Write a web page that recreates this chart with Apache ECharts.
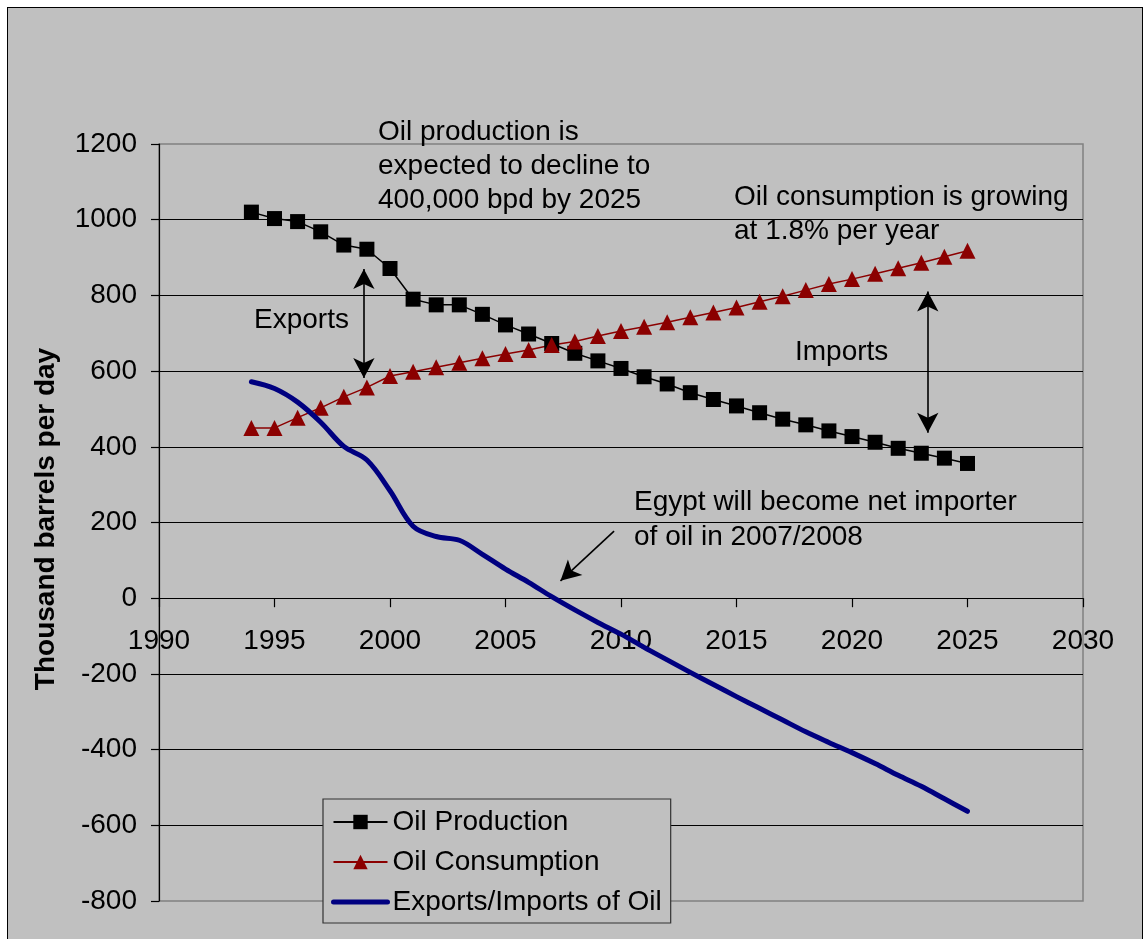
<!DOCTYPE html>
<html>
<head>
<meta charset="utf-8">
<title>Egypt oil production and consumption</title>
<script src="https://cdn.jsdelivr.net/npm/echarts@6/dist/echarts.min.js"></script>
<style>
  html, body { margin: 0; padding: 0; background: #ffffff; }
  #wrap { position: relative; width: 1148px; height: 939px; overflow: hidden; }
  #frame { position: absolute; left: 7px; top: 7px; width: 1134px; height: 960px;
           background: #c0c0c0; border: 1.5px solid #000; }
  #chart { position: absolute; left: 0; top: 0; width: 1148px; height: 939px; }
</style>
</head>
<body>
<div id="wrap">
  <div id="frame"></div>
  <div id="chart"></div>
</div>
<script>
// Years covered by the series
const years = [1994, 1995, 1996, 1997, 1998, 1999, 2000, 2001, 2002, 2003, 2004,
               2005, 2006, 2007, 2008, 2009, 2010, 2011, 2012, 2013, 2014, 2015,
               2016, 2017, 2018, 2019, 2020, 2021, 2022, 2023, 2024, 2025];

// Thousand barrels per day
const oilProduction = [1020, 1003, 995, 968, 933, 922, 871, 790, 775, 775, 750,
                       722, 698, 673, 647, 627, 607, 585, 566, 543, 525, 508,
                       490, 473, 458, 442, 427, 412, 396, 383, 370, 356];

const oilConsumption = [450, 450, 477, 503, 532, 557, 587, 598, 610, 622, 634,
                        645, 656, 669, 678, 693, 706, 717, 729, 742, 755, 768,
                        783, 798, 814, 830, 843, 857, 872, 886, 902, 918];

const exportsImports = [572, 554, 518, 465, 401, 365, 284, 190, 163, 153, 116,
                        77, 42, 4, -31, -64, -95, -130, -163, -196, -228, -260,
                        -291, -322, -353, -381, -408, -437, -468, -497, -530, -563];

const seriesNames = ['Oil Production', 'Oil Consumption', 'Exports/Imports of Oil'];

// Axis ranges and ticks
const xMin = 1990, xMax = 2030, xStep = 5;
const yMin = -800, yMax = 1200, yStep = 200;

// Arrow tips (year, value): the export and import gaps,
// and the pointer to the year of crossover
const exportsArrow = [[1998.87, 870], [1998.87, 582]];
const importsArrow = [[2023.28, 810], [2023.28, 437]];
const crossoverArrow = [[2009.70, 177], [2007.38, 46]];

const FONT = '"Liberation Sans", Arial, Helvetica, sans-serif';
const FS = 28;

// Plot rectangle
const GRID = { left: 159, right: 65, top: 144, bottom: 38 };
const plotHeight = 939 - GRID.top - GRID.bottom;
// The year axis sits on the zero line
const zeroOffset = -(0 - yMin) / (yMax - yMin) * plotHeight;

function zip(xs, ys) { return xs.map((x, i) => [x, ys[i]]); }

function label(x, y, text, lineHeight) {
  return {
    type: 'text',
    x: x, y: y,
    silent: true,
    z: 50,
    style: {
      text: text,
      fill: '#000',
      font: FS + 'px ' + FONT,
      fontSize: FS,
      fontFamily: FONT,
      lineHeight: lineHeight || FS,
      align: 'left',
      textAlign: 'left',
      verticalAlign: lineHeight ? 'top' : 'middle',
      textVerticalAlign: lineHeight ? 'top' : 'middle'
    }
  };
}

const chart = echarts.init(document.getElementById('chart'), null, { renderer: 'canvas' });

chart.setOption({
  animation: false,
  backgroundColor: 'transparent',
  textStyle: { fontFamily: FONT, color: '#000' },
  grid: {
    left: GRID.left, right: GRID.right, top: GRID.top, bottom: GRID.bottom,
    show: true,
    backgroundColor: 'transparent',
    borderColor: '#808080',
    borderWidth: 1.5,
    containLabel: false,
    outerBoundsMode: 'none'
  },
  xAxis: {
    type: 'value',
    position: 'bottom',
    offset: zeroOffset,
    min: xMin, max: xMax, interval: xStep,
    axisLine: { show: true, onZero: false, lineStyle: { color: '#000', width: 1.2 } },
    axisTick: { show: true, length: 9, inside: false, lineStyle: { color: '#000', width: 1.2 } },
    axisLabel: { color: '#000', fontSize: FS, fontFamily: FONT, margin: 29,
                 showMinLabel: true, showMaxLabel: true,
                 formatter: v => String(v) },
    splitLine: { show: false }
  },
  yAxis: {
    type: 'value',
    min: yMin, max: yMax, interval: yStep,
    axisLine: { show: true, onZero: false, lineStyle: { color: '#000', width: 1.2 } },
    axisTick: { show: true, length: 8, inside: false, lineStyle: { color: '#000', width: 1.2 } },
    axisLabel: { color: '#000', fontSize: FS, fontFamily: FONT, margin: 22,
                 formatter: v => String(v) },
    splitLine: { show: true, showMinLine: false, showMaxLine: false,
                 lineStyle: { color: '#000', width: 1.2 } }
  },
  legend: {
    orient: 'vertical',
    left: 323, top: 799,
    padding: [9, 9, 7, 8],
    itemGap: 12,
    itemWidth: 54,
    itemHeight: 18,
    backgroundColor: '#c0c0c0',
    borderColor: '#333',
    borderWidth: 1.2,
    selectedMode: false,
    data: [
      { name: seriesNames[0] },
      { name: seriesNames[1] },
      { name: seriesNames[2], itemStyle: { opacity: 0 },
        lineStyle: { width: 5, cap: 'round', color: '#000080' } }
    ],
    textStyle: { color: '#000', fontSize: FS, fontFamily: FONT, lineHeight: 27 }
  },
  graphic: [
    {
      type: 'text',
      x: 46, y: 519,
      rotation: Math.PI / 2,
      silent: true,
      style: {
        text: 'Thousand barrels per day',
        fill: '#000',
        font: 'bold ' + FS + 'px ' + FONT,
        fontSize: FS, fontWeight: 'bold', fontFamily: FONT,
        align: 'center', textAlign: 'center',
        verticalAlign: 'middle', textVerticalAlign: 'middle'
      }
    },
    label(378, 115.6, 'Oil production is\nexpected to decline to\n400,000 bpd by 2025', 34),
    label(734, 180.9, 'Oil consumption is growing\nat 1.8% per year', 33.5),
    label(254, 320.3, 'Exports'),
    label(795, 352, 'Imports'),
    label(634, 485, 'Egypt will become net importer\nof oil in 2007/2008', 35)
  ],
  series: [
    {
      name: seriesNames[0],
      type: 'line',
      data: zip(years, oilProduction),
      symbol: 'rect',
      symbolSize: 15,
      itemStyle: { color: '#000' },
      lineStyle: { color: '#000', width: 1.5 },
      emphasis: { disabled: true },
      z: 3,
      markLine: {
        silent: true,
        symbol: ['arrow', 'arrow'],
        symbolSize: [16, 20],
        label: { show: false },
        emphasis: { disabled: true },
        lineStyle: { color: '#000', width: 1.6, type: 'solid' },
        data: [
          [{ coord: exportsArrow[0] }, { coord: exportsArrow[1] }],
          [{ coord: importsArrow[0] }, { coord: importsArrow[1] }],
          [{ coord: crossoverArrow[0], symbol: 'none' }, { coord: crossoverArrow[1], symbol: 'arrow' }]
        ]
      }
    },
    {
      name: seriesNames[1],
      type: 'line',
      data: zip(years, oilConsumption),
      symbol: 'triangle',
      symbolSize: 16,
      itemStyle: { color: '#8b0000' },
      lineStyle: { color: '#8b0000', width: 1.5 },
      emphasis: { disabled: true },
      z: 3
    },
    {
      name: seriesNames[2],
      type: 'line',
      data: zip(years, exportsImports),
      symbol: 'none',
      showSymbol: false,
      smooth: 0.35,
      itemStyle: { color: '#000080' },
      lineStyle: { color: '#000080', width: 5, cap: 'round', join: 'round' },
      emphasis: { disabled: true },
      z: 4
    }
  ]
});
</script>
</body>
</html>
